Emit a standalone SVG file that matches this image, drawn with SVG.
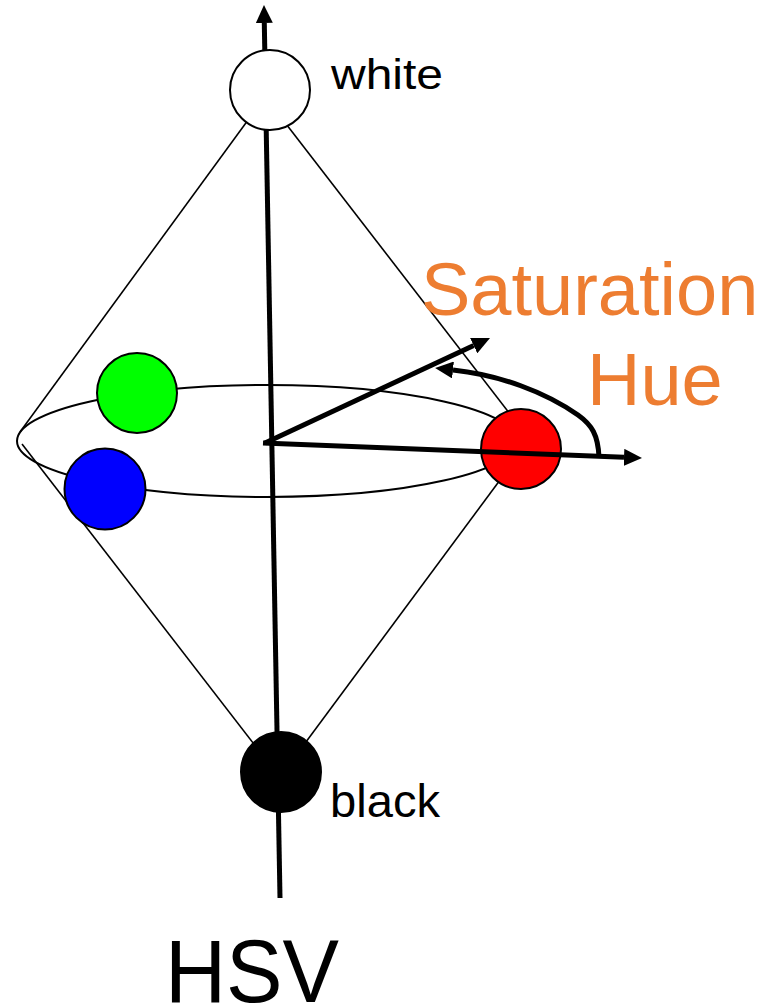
<svg xmlns="http://www.w3.org/2000/svg" width="776" height="1007" viewBox="0 0 776 1007">
<style>
.thin{fill:none;stroke:#000;stroke-width:1.6}
.thick{fill:none;stroke:#000;stroke-width:5}
.ball{stroke:#000;stroke-width:2}
.lbl{font-family:"Liberation Sans",Arial,sans-serif;fill:#000}
.orange{font-family:"Liberation Sans",Arial,sans-serif;fill:#ED7D31}
</style>
<defs>
<marker id="ah" markerUnits="userSpaceOnUse" markerWidth="18" markerHeight="17" refX="0" refY="8.5" orient="auto" viewBox="0 0 18 17">
<path d="M0,0 L18,8.5 L0,17 z" fill="#000"/>
</marker>
</defs>
<rect width="776" height="1007" fill="#fff"/>
<g id="cone">
<ellipse class="thin" cx="267" cy="441" rx="250" ry="56" style="stroke-width:2"/>
<line class="thin" x1="270" y1="90" x2="20" y2="432"/>
<line class="thin" x1="283" y1="120" x2="510" y2="414"/>
<line class="thin" x1="22" y1="444" x2="257" y2="748"/>
<line class="thin" x1="300" y1="750" x2="503" y2="476"/>
</g>
<g id="connectors">
<line class="thick" x1="280" y1="898" x2="264.3" y2="23" marker-end="url(#ah)"/>
<line class="thick" x1="265" y1="443" x2="473.7" y2="345.6" marker-end="url(#ah)"/>
<path class="thick" d="M599,457 C598,435 592,425 578,415 C545,392 500,375 453,370" marker-end="url(#ah)"/>
</g>
<g id="white"><circle class="ball" cx="270" cy="90" r="40" fill="#fff"/></g>
<g id="black"><circle class="ball" cx="281" cy="772" r="40" fill="#000"/></g>
<g id="green"><circle class="ball" cx="137" cy="393" r="40" fill="#00FF00"/></g>
<g id="blue"><circle class="ball" cx="105" cy="489" r="40.5" fill="#0000FF"/></g>
<g id="red"><circle class="ball" cx="521" cy="449" r="40" fill="#FF0000"/></g>
<g id="hue-axis">
<line class="thick" x1="263" y1="443" x2="624" y2="457.3" marker-end="url(#ah)"/>
</g>
<g id="labels">
<text class="lbl" x="331" y="89" font-size="42" textLength="112" lengthAdjust="spacingAndGlyphs">white</text>
<text class="lbl" x="330" y="817" font-size="46" textLength="110" lengthAdjust="spacingAndGlyphs">black</text>
<text class="lbl" x="165" y="1002" font-size="89" textLength="174" lengthAdjust="spacingAndGlyphs">HSV</text>
<text class="orange" x="421" y="315" font-size="74">Saturation</text>
<text class="orange" x="587" y="405" font-size="74">Hue</text>
</g>
</svg>
